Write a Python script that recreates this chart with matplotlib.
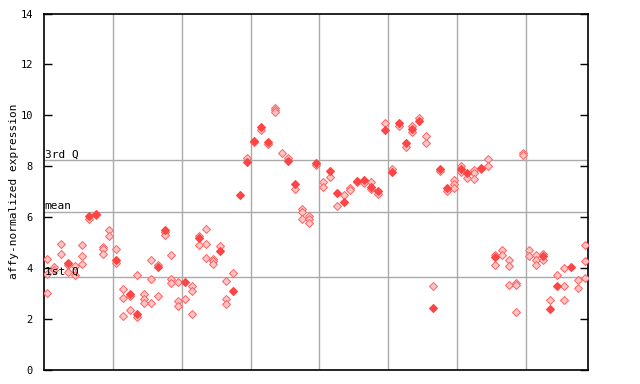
import matplotlib
matplotlib.use("Agg")
import matplotlib.pyplot as plt

# values per sample (1..79); hollow (checkered) and solid markers
hollow = [
    [4.36, 3.74, 3.02], [4.03, 3.92], [4.95, 4.56], [4.1, 3.85], [4.07, 3.7],
    [4.91, 4.45, 4.16], [5.93], [6.06], [4.82, 4.72, 4.56], [5.47, 5.24],
    [4.75, 4.2], [3.18, 2.83, 2.12], [2.88, 2.35], [3.7, 2.07], [2.98, 2.78, 2.61],
    [4.32, 3.57, 2.63], [4.12, 2.91], [5.4, 5.3], [4.51, 3.57, 3.4], [3.45, 2.68, 2.5],
    [2.78], [3.3, 3.07, 2.19], [5.24, 4.91], [5.54, 4.95, 4.4], [4.33, 4.25, 4.16],
    [4.84], [3.47, 2.78, 2.58], [3.81], [], [8.3],
    [8.95], [9.41], [8.85], [10.3, 10.2, 10.13], [8.5],
    [8.3], [7.08], [6.33, 6.2, 5.93], [6.03, 5.9, 5.76], [8.05],
    [7.38, 7.18], [7.57], [6.43], [6.88], [7.15, 7.05],
    [7.37], [7.34], [7.38, 7.09], [6.9], [9.68],
    [7.9], [9.57], [8.76], [9.58, 9.35], [9.91],
    [9.2, 8.89], [3.27], [7.81], [7.02], [7.47, 7.29, 7.12],
    [8.0, 7.75], [7.55], [7.84, 7.73, 7.51], [7.88], [8.26, 8.0],
    [4.51, 4.12], [4.71, 4.51], [4.29, 4.06, 3.34], [3.4, 3.34, 2.28], [8.52, 8.45],
    [4.69, 4.46], [4.51, 4.32, 4.12], [4.56, 4.32], [2.72], [3.7],
    [4.0, 3.28, 2.75], [], [3.53, 3.22], [4.91, 4.25, 3.6],
]
solid = [
    [], [], [], [4.2], [],
    [], [6.05], [6.1], [], [],
    [4.3], [], [2.98], [2.19], [],
    [], [4.03], [5.5], [], [],
    [3.44], [], [5.17], [], [],
    [4.66], [], [3.07], [6.85], [8.17],
    [9.0], [9.54], [8.95], [], [],
    [8.2], [7.29], [], [], [8.12],
    [], [7.81], [6.94], [6.59], [],
    [7.4], [7.44], [7.18], [7.02], [9.41],
    [7.77], [9.7], [8.91], [9.45], [9.78],
    [], [2.41], [7.9], [7.12], [],
    [7.9], [7.73], [], [7.93], [],
    [4.42], [], [], [], [],
    [], [], [4.45], [2.39], [3.28],
    [], [4.03], [], [],
]
group_size = [10, 10, 10, 10, 10, 10, 10, 9]
quartiles = {"3rd Q": 8.22, "mean": 6.21, "1st Q": 3.62}
yticks = [0, 2, 4, 6, 8, 10, 12, 14]

mono = "DejaVu Sans Mono"
fig = plt.figure(figsize=(6.4, 3.84), dpi=100)
ax = fig.add_axes([44 / 640, 1 - 369.5 / 384, 544 / 640, 356 / 384])

n = len(hollow)
ax.set_xlim(0.5, n + 0.5)
ax.set_ylim(0, 14)

# group separators
edge = 0.5
for g in group_size[:-1]:
    edge += g
    ax.axvline(edge, color="#aaaaaa", lw=1, zorder=1)

for label, v in quartiles.items():
    ax.axhline(v, color="#aaaaaa", lw=1, zorder=1)
    ax.text(0.6, v + 0.03, label, family=mono, fontsize=8, va="bottom", ha="left",
            color="black", zorder=6)

hx, hy, sx, sy = [], [], [], []
for i in range(n):
    for v in hollow[i]:
        hx.append(i + 1); hy.append(v)
    for v in solid[i]:
        sx.append(i + 1); sy.append(v)

ax.plot(hx, hy, "D", ms=3.8, mfc="#ffc4c4", mec="#ff6060", mew=0.7, ls="none", zorder=4)
ax.plot(sx, sy, "D", ms=3.8, mfc="#ff4444", mec="#ff4444", mew=0.8, ls="none", zorder=5)

ax.set_yticks(yticks)
ax.set_yticklabels([str(t) for t in yticks], family=mono, fontsize=7.5)
ax.tick_params(axis="y", direction="in", length=6, width=1, right=True, pad=8)
ax.set_xticks([])
for s in ax.spines.values():
    s.set_linewidth(1.2)
ax.set_ylabel("affy-normalized expression", family=mono, fontsize=8, labelpad=1)

fig.savefig("out.png", dpi=100)
